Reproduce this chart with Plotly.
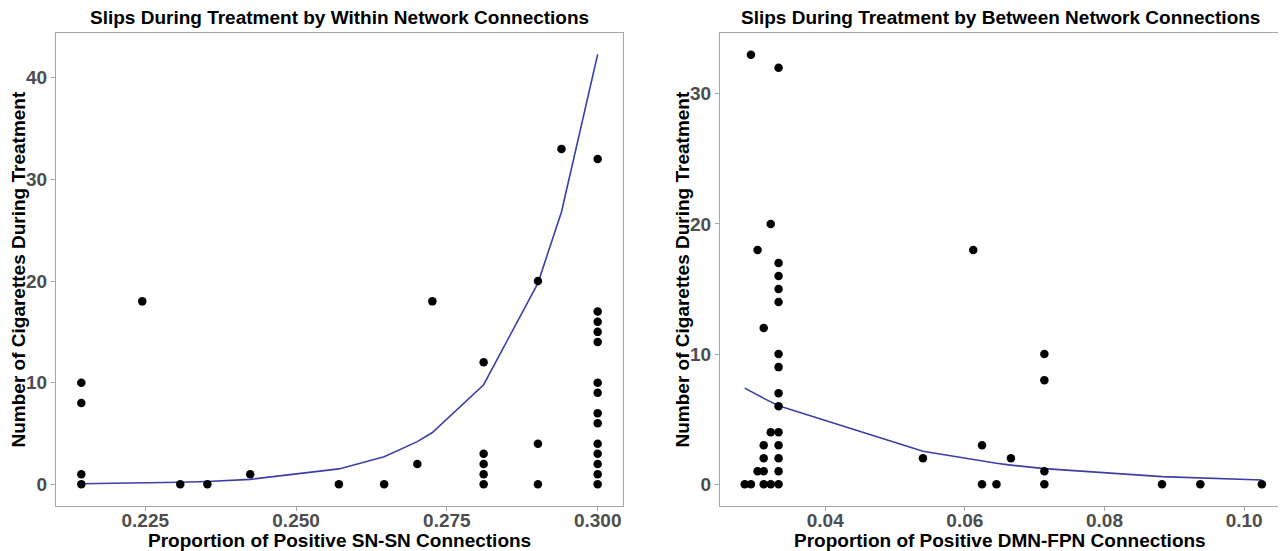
import plotly.graph_objects as go

# ---------------- data: left panel (within network SN-SN) ----------------
within_x = [0.2144, 0.2144, 0.2144, 0.2144,
            0.2245, 0.2308, 0.2353, 0.2424, 0.2571, 0.2646, 0.2701, 0.2726,
            0.2811, 0.2811, 0.2811, 0.2811, 0.2811,
            0.2901, 0.2901, 0.2901,
            0.2940,
            0.300, 0.300, 0.300, 0.300, 0.300, 0.300, 0.300,
            0.300, 0.300, 0.300, 0.300, 0.300, 0.300, 0.300]
within_y = [10, 8, 1, 0,
            18, 0, 0, 1, 0, 0, 2, 18,
            12, 3, 2, 1, 0,
            20, 4, 0,
            33,
            32, 17, 16, 15, 14, 10, 9,
            7, 6, 4, 3, 2, 1, 0]
within_fit_x = [0.2144, 0.2245, 0.2308, 0.2353, 0.2424, 0.2571, 0.2646,
                0.2701, 0.2726, 0.2811, 0.2901, 0.2940, 0.300]
within_fit_y = [0.06, 0.12, 0.20, 0.28, 0.49, 1.52, 2.72,
                4.2, 5.1, 9.8, 19.8, 26.8, 42.3]

# ---------------- data: right panel (between network DMN-FPN) ----------------
between_x = [0.02847,
             0.02936, 0.02936,
             0.03031, 0.03031,
             0.03119, 0.03119, 0.03119, 0.03119, 0.03119,
             0.0322, 0.0322, 0.0322,
             0.03332, 0.03332, 0.03332, 0.03332, 0.03332, 0.03332, 0.03332,
             0.03332, 0.03332, 0.03332, 0.03332, 0.03332, 0.03332, 0.03332,
             0.0540, 0.0612, 0.06246, 0.06246, 0.06453, 0.0666,
             0.07139, 0.07139, 0.07139, 0.07139,
             0.08824, 0.09373, 0.10254]
between_y = [0,
             33, 0,
             18, 1,
             12, 3, 2, 1, 0,
             20, 4, 0,
             32, 17, 16, 15, 14, 10, 9,
             7, 6, 4, 3, 2, 1, 0,
             2, 18, 3, 0, 0, 2,
             10, 8, 1, 0,
             0, 0, 0]
between_fit_x = [0.02847, 0.02936, 0.03031, 0.03119, 0.0322, 0.03332,
                 0.0540, 0.0612, 0.06246, 0.06453, 0.0666, 0.07139,
                 0.08824, 0.09373, 0.10254]
between_fit_y = [7.39, 7.12, 6.85, 6.60, 6.33, 6.03,
                 2.53, 1.87, 1.76, 1.61, 1.47, 1.20,
                 0.59, 0.47, 0.33]

left_xticks = [0.225, 0.250, 0.275, 0.300]
left_xticklabels = ["0.225", "0.250", "0.275", "0.300"]
left_yticks = [0, 10, 20, 30, 40]
right_xticks = [0.04, 0.06, 0.08, 0.10]
right_xticklabels = ["0.04", "0.06", "0.08", "0.10"]
right_yticks = [0, 10, 20, 30]

titles = ["Slips During Treatment by Within Network Connections",
          "Slips During Treatment by Between Network Connections"]
x_titles = ["Proportion of Positive SN-SN Connections",
            "Proportion of Positive DMN-FPN Connections"]
y_title = "Number of Cigarettes During Treatment"

# ---------------- styling ----------------
# page body has an 8px margin: figure origin sits at (8, 8) of the window
OFF = 8
W, H = 1278, 543
FONT = "Liberation Sans, Arial, Helvetica, sans-serif"
LINE_COLOR = "#3A3FA6"
BORDER = "#A6A6A6"
TICK_GREY = "#4D4D4D"
TITLE_SIZE = 19

fig = go.Figure()

fig.add_trace(go.Scatter(x=within_fit_x, y=within_fit_y, mode="lines",
                         line=dict(color=LINE_COLOR, width=1.6),
                         xaxis="x", yaxis="y", showlegend=False, hoverinfo="skip"))
fig.add_trace(go.Scatter(x=within_x, y=within_y, mode="markers",
                         marker=dict(color="black", size=8.5),
                         xaxis="x", yaxis="y", showlegend=False))
fig.add_trace(go.Scatter(x=between_fit_x, y=between_fit_y, mode="lines",
                         line=dict(color=LINE_COLOR, width=1.6),
                         xaxis="x2", yaxis="y2", showlegend=False, hoverinfo="skip"))
fig.add_trace(go.Scatter(x=between_x, y=between_y, mode="markers",
                         marker=dict(color="black", size=8.5),
                         xaxis="x2", yaxis="y2", showlegend=False))

def px_x(p):
    return (p - OFF) / W

def px_y(p):
    return 1 - (p - OFF) / H

left_dom = [px_x(56), px_x(623)]
right_dom = [px_x(720), px_x(1280)]
y_dom = [px_y(506), px_y(33)]

axis_common = dict(showgrid=False, zeroline=False, showline=True, linecolor=BORDER,
                   linewidth=1.2, mirror=True, ticks="outside", ticklen=4,
                   tickcolor=BORDER, tickwidth=1,
                   tickfont=dict(family=FONT, size=19, color=TICK_GREY, weight="bold"))

fig.update_layout(
    width=W, height=H,
    margin=dict(l=0, r=0, t=0, b=0),
    paper_bgcolor="white", plot_bgcolor="white",
    font=dict(family=FONT),
    xaxis=dict(domain=left_dom, range=[0.2102, 0.3042], tickvals=left_xticks,
               ticktext=left_xticklabels, anchor="y", ticklabelstandoff=-7, **axis_common),
    yaxis=dict(domain=y_dom, range=[-2.13, 44.4], tickvals=left_yticks,
               anchor="x", **axis_common),
    xaxis2=dict(domain=right_dom, range=[0.02493, 0.10514], tickvals=right_xticks,
                ticktext=right_xticklabels, anchor="y2", ticklabelstandoff=-7, **axis_common),
    yaxis2=dict(domain=y_dom, range=[-1.67, 34.67], tickvals=right_yticks,
                anchor="x2", **axis_common),
)

annos = []
for dom, t, xt in [(left_dom, titles[0], x_titles[0]), (right_dom, titles[1], x_titles[1])]:
    cx = (dom[0] + dom[1]) / 2
    annos.append(dict(text="<b>" + t + "</b>", x=cx, y=px_y(18), xref="paper", yref="paper",
                      xanchor="center", yanchor="middle", showarrow=False,
                      font=dict(family=FONT, size=TITLE_SIZE, color="black")))
    annos.append(dict(text="<b>" + xt + "</b>", x=cx, y=px_y(540), xref="paper", yref="paper",
                      xanchor="center", yanchor="middle", showarrow=False,
                      font=dict(family=FONT, size=TITLE_SIZE, color="black")))
for xp in [18, 682]:
    annos.append(dict(text="<b>" + y_title + "</b>", x=px_x(xp), y=(y_dom[0] + y_dom[1]) / 2,
                      xref="paper", yref="paper", xanchor="center", yanchor="middle",
                      textangle=-90, showarrow=False,
                      font=dict(family=FONT, size=TITLE_SIZE, color="black")))
fig.update_layout(annotations=annos)

fig.write_html("out.html")
